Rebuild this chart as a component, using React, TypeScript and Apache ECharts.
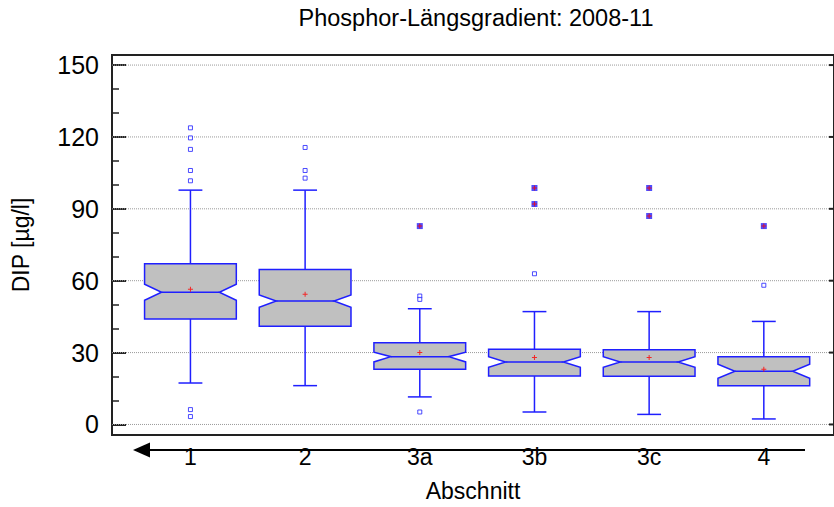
import React, { useEffect, useRef } from "react";
import * as echarts from "echarts";

const chartTitle = "Phosphor-Längsgradient: 2008-11";
const xAxisName = "Abschnitt";
const yAxisName = "DIP [µg/l]";
const categories = ["1", "2", "3a", "3b", "3c", "4"];
const whiskerLow = [17.3, 16.2, 11.5, 5.2, 4.2, 2.3];
const q1 = [44.0, 41.0, 23.0, 20.2, 20.1, 16.2];
const notchLow = [51.8, 48.9, 26.1, 23.9, 23.9, 19.3];
const median = [55.2, 51.5, 28.3, 26.1, 26.1, 22.2];
const notchHigh = [58.5, 54.0, 30.2, 28.3, 28.3, 25.1];
const q3 = [67.1, 64.7, 34.1, 31.4, 31.2, 28.3];
const whiskerHigh = [97.8, 97.8, 48.3, 47.1, 47.1, 43.0];
const means = [56.4, 54.3, 30.0, 27.9, 27.9, 23.0];
const outliers = [
  [123.8, 119.6, 114.8, 106.0, 101.7, 6.2, 3.3],
  [115.6, 106.0, 102.8],
  [53.6, 52.2, 5.2],
  [62.9],
  [],
  [58.1],
];
const farOutliers = [[], [], [82.8], [98.7, 92.0], [98.7, 87.0], [82.8]];
const yMajorTicks = [0, 30, 60, 90, 120, 150];
const yMinorTicks = [0, 10, 20, 30, 40, 50, 60, 70, 80, 90, 100, 110, 120, 130, 140, 150];

const FONT = "'Liberation Sans', Arial, sans-serif";
const BLUE = "#1f1fff";
const PLUS = "path://M0,2h5v1h-5zM2,0h1v5h-1z";

export default function App() {
  const ref = useRef<HTMLDivElement>(null);
  useEffect(() => {
    if (!ref.current) return;
    const chart = echarts.init(ref.current, null, { renderer: "svg" });

    const boxData = categories.map((_, i) => [
      i,
      whiskerLow[i],
      q1[i],
      notchLow[i],
      median[i],
      notchHigh[i],
      q3[i],
      whiskerHigh[i],
    ]);
    const outlierData = outliers.flatMap((vals, i) => vals.map((v) => [i, v]));
    const farData = farOutliers.flatMap((vals, i) => vals.map((v) => [i, v]));
    const meanData = means.map((v, i) => [i, v]);
    const gridData = yMajorTicks.map((v) => [0, v]);

    const option: any = {
      animation: false,
      backgroundColor: "#fff",
      title: {
        text: chartTitle,
        left: 476,
        top: 6,
        padding: 0,
        textAlign: "center",
        textStyle: { fontFamily: FONT, fontSize: 23.5, fontWeight: "normal", color: "#000" },
      },
      grid: {
        left: 112,
        right: -2,
        top: 55,
        bottom: 72,
        show: true,
        borderColor: "#222",
        borderWidth: 2,
        backgroundColor: "transparent",
      },
      xAxis: {
        type: "value",
        min: -0.684,
        max: 5.612,
        name: xAxisName,
        nameLocation: "middle",
        nameGap: 44,
        nameTextStyle: { fontFamily: FONT, fontSize: 23, color: "#000" },
        axisLine: { show: false, onZero: false },
        axisTick: { show: false },
        splitLine: { show: false },
        axisLabel: {
          customValues: categories.map((_, i) => i),
          formatter: (v: number) => categories[Math.round(v)] ?? "",
          fontFamily: FONT,
          fontSize: 23,
          color: "#000",
          margin: 10,
        },
      },
      yAxis: [
        {
          type: "value",
          min: -4.4,
          max: 154.2,
          name: yAxisName,
          nameLocation: "middle",
          nameGap: 80,
          nameTextStyle: { fontFamily: FONT, fontSize: 23, color: "#000" },
          axisLine: { show: false, onZero: false },
          splitLine: { show: false },
          axisTick: {
            show: true,
            inside: true,
            length: 7,
            customValues: yMinorTicks,
            lineStyle: { color: "#222", width: 1.5 },
          },
          axisLabel: {
            customValues: yMajorTicks,
            fontFamily: FONT,
            fontSize: 25,
            color: "#000",
            margin: 13,
          },
        },
        {
          type: "value",
          min: -4.4,
          max: 154.2,
          position: "left",
          axisLine: { show: false, onZero: false },
          splitLine: { show: false },
          axisLabel: { show: false },
          axisTick: {
            show: true,
            inside: true,
            length: 14,
            customValues: yMajorTicks,
            lineStyle: { color: "#222", width: 2 },
          },
        },
      ],
      graphic: [
        {
          type: "line",
          shape: { x1: 145, y1: 450, x2: 805, y2: 450 },
          style: { stroke: "#000", lineWidth: 2 },
          silent: true,
        },
        {
          type: "polygon",
          shape: { points: [[133, 450], [150, 442.5], [150, 457.5]] },
          style: { fill: "#000" },
          silent: true,
        },
      ],
      series: [
        {
          type: "custom",
          name: "grid",
          z: 1,
          silent: true,
          data: gridData,
          renderItem: (params: any, api: any) => {
            const cs = params.coordSys;
            const y = api.coord([0, api.value(1)])[1];
            const right = cs.x + cs.width;
            return {
              type: "group",
              children: [
                {
                  type: "line",
                  shape: { x1: cs.x, y1: y, x2: right - 5, y2: y },
                  style: { stroke: "#9a9a9a", lineWidth: 1, lineDash: [1, 1] },
                },
                {
                  type: "line",
                  shape: { x1: right - 5, y1: y, x2: right, y2: y },
                  style: { stroke: "#222", lineWidth: 2 },
                },
              ],
            };
          },
        },
        {
          type: "custom",
          name: "boxes",
          z: 2,
          data: boxData,
          renderItem: (params: any, api: any) => {
            const x = api.value(0);
            const band = api.size([1, 0])[0];
            const half = band * 0.4;
            const inset = band * 0.148;
            const cap = band * 0.104;
            const cx = api.coord([x, 0])[0];
            const y = (k: number) => api.coord([x, api.value(k)])[1];
            const yWl = y(1), yQ1 = y(2), yNl = y(3), yMed = y(4), yNh = y(5), yQ3 = y(6), yWh = y(7);
            const L = cx - half, R = cx + half;
            const ls = { stroke: BLUE, lineWidth: 1.5 };
            return {
              type: "group",
              children: [
                { type: "line", shape: { x1: cx, y1: yQ3, x2: cx, y2: yWh }, style: ls },
                { type: "line", shape: { x1: cx - cap, y1: yWh, x2: cx + cap, y2: yWh }, style: ls },
                { type: "line", shape: { x1: cx, y1: yQ1, x2: cx, y2: yWl }, style: ls },
                { type: "line", shape: { x1: cx - cap, y1: yWl, x2: cx + cap, y2: yWl }, style: ls },
                {
                  type: "polygon",
                  shape: {
                    points: [
                      [L, yQ3], [R, yQ3], [R, yNh], [R - inset, yMed], [R, yNl], [R, yQ1],
                      [L, yQ1], [L, yNl], [L + inset, yMed], [L, yNh],
                    ],
                  },
                  style: { fill: "#c0c0c0", stroke: BLUE, lineWidth: 1.5 },
                },
                { type: "line", shape: { x1: L + inset, y1: yMed, x2: R - inset, y2: yMed }, style: ls },
              ],
            };
          },
        },
        {
          type: "scatter",
          name: "outliers",
          z: 3,
          symbol: "rect",
          symbolSize: 4,
          itemStyle: { color: "#fff", borderColor: BLUE, borderWidth: 1 },
          data: outlierData,
        },
        {
          type: "scatter",
          name: "far outliers",
          z: 3,
          symbol: "rect",
          symbolSize: 6,
          itemStyle: { color: BLUE },
          data: farData,
        },
        {
          type: "scatter",
          name: "far outlier marks",
          z: 4,
          symbol: PLUS,
          symbolSize: 5,
          itemStyle: { color: "#ff0000" },
          data: farData,
        },
        {
          type: "scatter",
          name: "mean",
          z: 4,
          symbol: PLUS,
          symbolSize: 5,
          itemStyle: { color: "#ff0000" },
          data: meanData,
        },
      ],
    };
    chart.setOption(option);
    return () => chart.dispose();
  }, []);
  return (
    <div
      ref={ref}
      style={{ position: "absolute", left: 0, top: 0, width: 834, height: 507 }}
    />
  );
}
